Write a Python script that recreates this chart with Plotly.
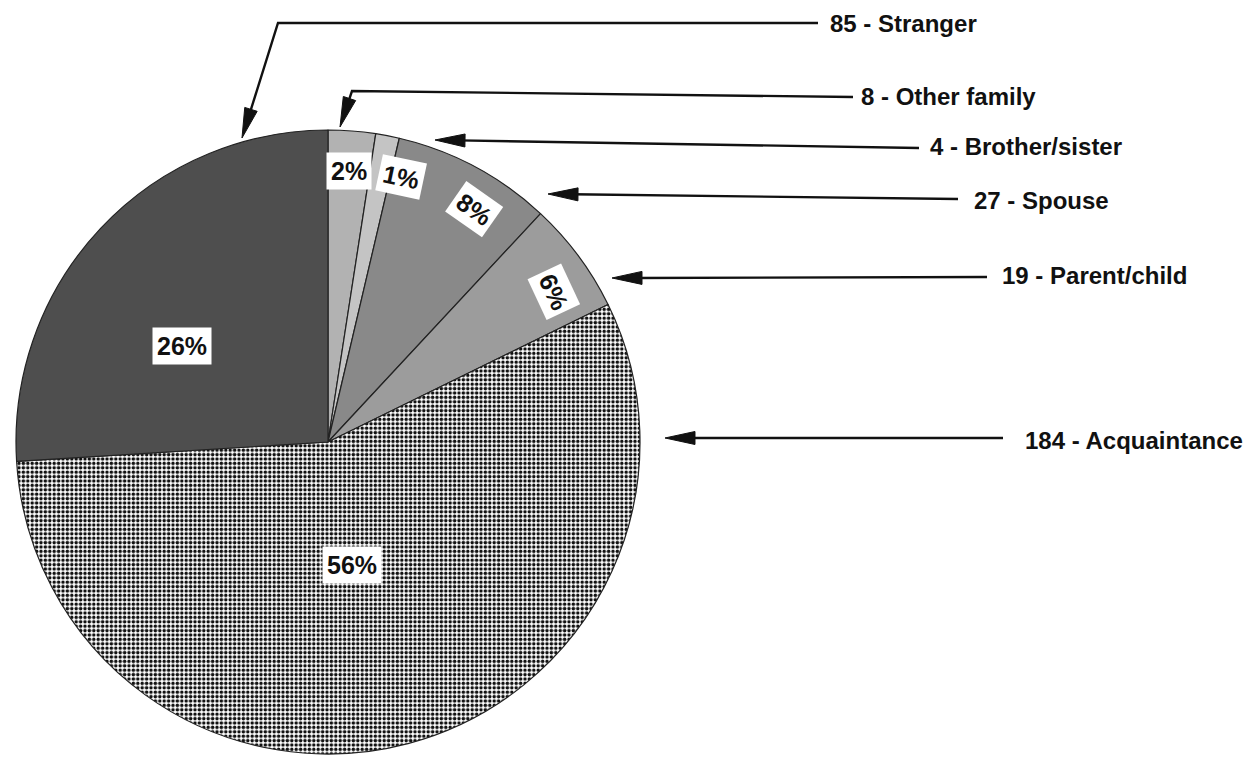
import math
import plotly.graph_objects as go

# ---- data ----
categories = ["Other family", "Brother/sister", "Spouse", "Parent/child", "Acquaintance", "Stranger"]
counts = [8, 4, 27, 19, 184, 85]
percent_labels = ["2%", "1%", "8%", "6%", "56%", "26%"]
callout_texts = ["8 - Other family", "4 - Brother/sister", "27 - Spouse",
                 "19 - Parent/child", "184 - Acquaintance", "85 - Stranger"]

# ---- style ----
slice_colors = ["#b2b2b2", "#c4c4c4", "#898989", "#9c9c9c", "#ffffff", "#4e4e4e"]
pattern_shapes = ["", "", "", "", ".", ""]
label_radius_frac = [0.87, 0.88, 0.88, 0.87, 0.40, 0.56]
label_angle_shift_deg = [0, 4.5, 4, 3, 4, -10]
label_text_angle = [0, 12, 35, 65, 0, 0]

# page geometry (the page body has an 8px margin)
OFF = 8
W, H = 1252, 756
CX, CY, R = 328, 442, 312   # page pixels


def X(px):
    return (px - OFF) / W


def Y(py):
    return 1 - (py - OFF) / H


fig = go.Figure()
fig.add_trace(go.Pie(
    labels=categories,
    values=counts,
    sort=False,
    direction="clockwise",
    rotation=0,
    textinfo="none",
    hoverinfo="label+value+percent",
    showlegend=False,
    domain=dict(x=[X(CX - R), X(CX + R)], y=[Y(CY + R), Y(CY - R)]),
    marker=dict(
        colors=slice_colors,
        line=dict(color="#222222", width=1.2),
        pattern=dict(shape=pattern_shapes, fgcolor="#111111", bgcolor="#ffffff",
                     size=4.4, solidity=0.5, fillmode="replace"),
    ),
))

# percent labels near slice mid-angles computed from the data
total = sum(counts)
cum = 0.0
annotations = []
for i, v in enumerate(counts):
    mid = (cum + v / 2) / total * 2 * math.pi + math.radians(label_angle_shift_deg[i])
    cum += v
    f = label_radius_frac[i]
    x = CX + f * R * math.sin(mid)
    y = CY - f * R * math.cos(mid)
    annotations.append(dict(
        x=X(x), y=Y(y), xref="paper", yref="paper", showarrow=False,
        xanchor="center", yanchor="middle",
        text="<b>" + percent_labels[i] + "</b>", textangle=label_text_angle[i],
        font=dict(family="Liberation Sans, Arial", size=25, color="#111111"),
        bgcolor="#ffffff", borderpad=4,
    ))

# callouts: text left x, text y, polyline points (tail ... tip) in page px
callout_geom = [
    (859, 97, [(853, 97), (352, 91), (340, 127)]),
    (928, 147, [(919, 148), (435, 140)]),
    (972, 200, [(958, 199), (548, 194)]),
    (1000, 276, [(987, 277), (612, 278)]),
    (1023, 440, [(1003, 438), (665, 438)]),
    (828, 23, [(818, 23), (278, 23), (242, 138)]),
]

shapes = []
HEAD_L, HEAD_W, LW = 30, 13, 2.4
for text, (tx, ty, pts) in zip(callout_texts, callout_geom):
    annotations.append(dict(
        x=X(tx), y=Y(ty), xref="paper", yref="paper", showarrow=False,
        text="<b>" + text + "</b>", xanchor="left", yanchor="middle",
        font=dict(family="Liberation Sans, Arial", size=24, color="#111111"),
    ))
    tipx, tipy = pts[-1]
    px0, py0 = pts[-2]
    d = math.hypot(tipx - px0, tipy - py0)
    ux, uy = (tipx - px0) / d, (tipy - py0) / d
    bx, by = tipx - ux * HEAD_L * 0.8, tipy - uy * HEAD_L * 0.8
    line_pts = pts[:-1] + [(bx, by)]
    path = "M " + " L ".join(f"{X(a):.5f},{Y(b):.5f}" for a, b in line_pts)
    shapes.append(dict(type="path", xref="paper", yref="paper", path=path,
                       line=dict(color="#111111", width=LW)))
    nx, ny = -uy, ux
    b0x, b0y = tipx - ux * HEAD_L, tipy - uy * HEAD_L
    p1 = (b0x + nx * HEAD_W / 2, b0y + ny * HEAD_W / 2)
    p2 = (b0x - nx * HEAD_W / 2, b0y - ny * HEAD_W / 2)
    head = (f"M {X(tipx):.5f},{Y(tipy):.5f} L {X(p1[0]):.5f},{Y(p1[1]):.5f} "
            f"L {X(p2[0]):.5f},{Y(p2[1]):.5f} Z")
    shapes.append(dict(type="path", xref="paper", yref="paper", path=head,
                       fillcolor="#111111", line=dict(color="#111111", width=1)))

fig.update_layout(
    width=W, height=H,
    margin=dict(l=0, r=0, t=0, b=0),
    paper_bgcolor="#ffffff", plot_bgcolor="#ffffff",
    annotations=annotations,
    shapes=shapes,
)

fig.write_html("out.html")
